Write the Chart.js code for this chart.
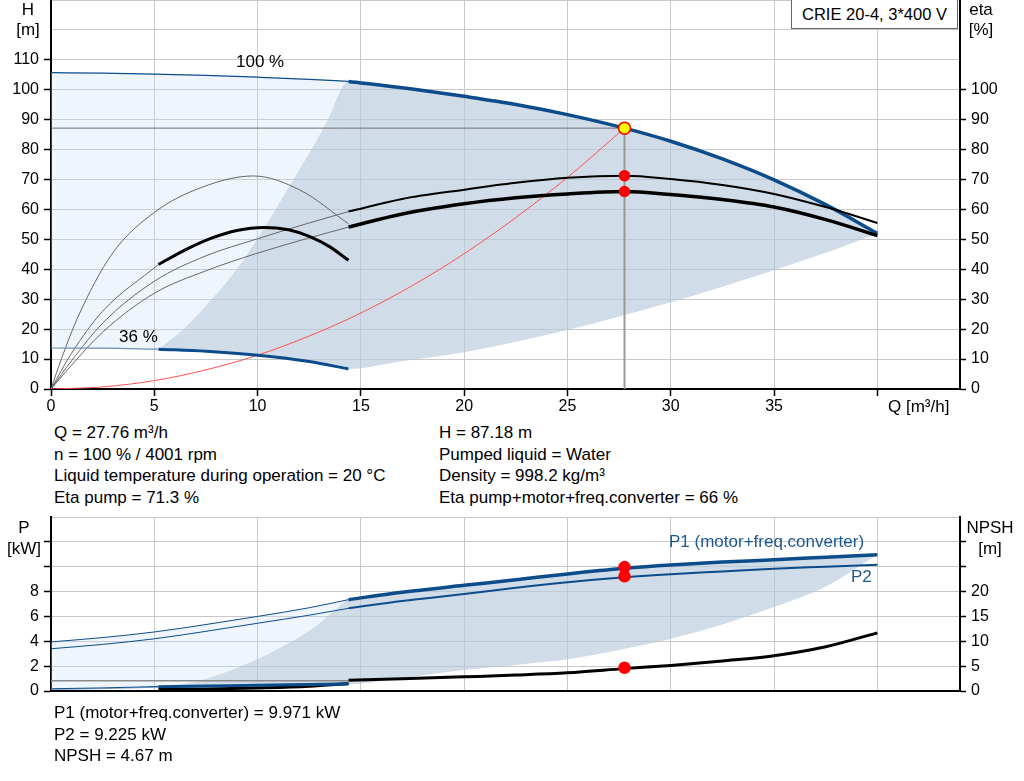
<!DOCTYPE html>
<html><head><meta charset="utf-8">
<script src="https://cdn.jsdelivr.net/npm/chart.js@4.4.0/dist/chart.umd.min.js"></script>
<style>
html,body{margin:0;padding:0;background:#fff}
body{width:1024px;height:781px;overflow:hidden;position:relative;font-family:"Liberation Sans",Arial,sans-serif;font-size:17px;color:#000}
.t{position:absolute;white-space:nowrap;line-height:20px}
.c{text-align:center}
#c1{position:absolute;left:0;top:0;width:1024px;height:420px}
#c2{position:absolute;left:0;top:510px;width:1024px;height:200px}
#title{position:absolute;left:791px;top:-1px;width:165px;height:28px;border:1px solid #666;background:#fff;text-align:center;line-height:29px;white-space:nowrap;font-size:16.5px}
.info{position:absolute;white-space:nowrap;line-height:21.5px}
</style></head><body>
<canvas id="c1" width="1024" height="420"></canvas>
<canvas id="c2" width="1024" height="200"></canvas>

<div id="title">CRIE 20-4, 3*400 V</div>
<div class="t c" style="left:0;top:0;width:56px">H<br>[m]</div>
<div class="t c" style="left:961px;top:0;width:40px">eta<br>[%]</div>
<div class="t" style="left:236px;top:52px">100 %</div>
<div class="t" style="left:119px;top:327px">36 %</div>
<div class="t" style="left:888px;top:397px">Q [m³/h]</div>

<div class="info" style="left:54px;top:422px">Q = 27.76 m³/h<br>n = 100 % / 4001 rpm<br>Liquid temperature during operation = 20 °C<br>Eta pump = 71.3 %</div>
<div class="info" style="left:439px;top:422px">H = 87.18 m<br>Pumped liquid = Water<br>Density = 998.2 kg/m³<br>Eta pump+motor+freq.converter = 66 %</div>

<div class="t c" style="left:0;top:517px;width:48px;line-height:21px">P<br>[kW]</div>
<div class="t c" style="left:960px;top:517px;width:60px;line-height:21px">NPSH<br>[m]</div>
<div class="t" style="left:669px;top:532px;color:#1b5892">P1 (motor+freq.converter)</div>
<div class="t" style="left:851px;top:567px;color:#1b5892">P2</div>

<div class="info" style="left:54px;top:702px;line-height:21.7px">P1 (motor+freq.converter) = 9.971 kW<br>P2 = 9.225 kW<br>NPSH = 4.67 m</div>

<script>
// ---------- Top chart data (Q in m³/h, H in m, eta in %) ----------
const Q_H100_THIN = [0, 2.5, 5, 7.5, 10, 12.5, 14.4];
const H_H100_THIN = [105.7, 105.55, 105.25, 104.8, 104.2, 103.5, 102.8];
const Q_H100 = [14.4, 17, 20, 22.5, 25, 27.76, 30, 32.5, 35, 37.5, 40];
const H_H100 = [102.8, 100.7, 97.8, 95.1, 91.7, 87.18, 82.8, 76.9, 69.9, 61.6, 52.0];

const Q_H36_THIN = [0, 2.5, 5.2];
const H_H36_THIN = [13.7, 13.65, 13.3];
const Q_H36 = [5.2, 7.5, 10, 12.5, 14.4];
const H_H36 = [13.3, 12.6, 11.3, 9.2, 6.7];

const Q_LEFT_BOUND = [5.2, 6.41, 7.78, 8.99, 9.96, 10.87, 11.73, 12.6, 13.4, 14.4];
const H_LEFT_BOUND = [13.3, 20, 30, 40, 50, 60, 70, 80, 90, 102.8];
const Q_LOW_BOUND = [14.4, 17, 20, 22.5, 25, 27.5, 30, 32.5, 35, 37.5, 40];
const H_LOW_BOUND = [6.7, 9.3, 12.3, 15.8, 19.7, 24.2, 29, 34.2, 39.7, 45.5, 52];

const Q_SYS = [0, 2.5, 5, 7.5, 10, 12.5, 15, 17.5, 20, 22.5, 25, 27.76];
const H_SYS = [0, 0.7, 2.8, 6.4, 11.3, 17.7, 25.4, 34.6, 45.2, 57.3, 70.7, 87.18];

const Q_ETAP36 = [0, 0.5, 1.3, 2.94, 5, 7.3, 9.8, 12.1, 14.4];
const E_ETAP36 = [0, 10, 24, 45, 59, 67.4, 71.2, 66.3, 55.2];
const Q_ETAT36_THIN = [0, 1, 2.5, 5.2];
const E_ETAT36_THIN = [0, 12, 26, 41.6];
const Q_ETAT36 = [5.2, 6.5, 7.8, 9, 10.3, 11.5, 12.5, 13.5, 14.4];
const E_ETAT36 = [41.6, 46.5, 50.5, 53, 54, 53.2, 51, 47.5, 43];

const Q_ETAP_THIN = [0, 1, 2.5, 5, 7.5, 10, 12.5, 14.4];
const E_ETAP_THIN = [0, 9.5, 22, 36, 44.5, 50.2, 55.5, 59.3];
const Q_ETAP = [14.4, 17, 20, 22.5, 25, 27.76, 30, 32.5, 35, 37.5, 40];
const E_ETAP = [59.3, 63.5, 66.6, 68.9, 70.6, 71.3, 70.2, 68.2, 65.2, 60.8, 55.5];
const Q_ETAT_THIN = [0, 1, 2.5, 5, 7.5, 10, 12.5, 14.4];
const E_ETAT_THIN = [0, 8, 19, 32, 39.5, 45.4, 50.5, 54.1];
const Q_ETAT = [14.4, 17, 20, 22.5, 25, 27.76, 30, 32.5, 35, 37.5, 40];
const E_ETAT = [54.1, 58.5, 61.9, 63.9, 65.2, 66, 65, 63.3, 60.8, 56.6, 51.3];

const DUTY_Q = 27.76, DUTY_H = 87.18, DUTY_ETAP = 71.3, DUTY_ETAT = 66;

const H_TICKS_MAX = 130, ETA_LABEL_MAX = 100, H_LABEL_MAX = 110;

// ---------- Bottom chart data (P in kW, NPSH in m) ----------
const Q_P1_THIN = [0, 2.5, 5, 7.5, 10, 12.5, 14.4];
const P_P1_THIN = [3.95, 4.3, 4.75, 5.35, 6.0, 6.7, 7.35];
const Q_P1 = [14.4, 17, 20, 22.5, 25, 27.76, 30, 32.5, 35, 37.5, 40];
const P_P1 = [7.35, 7.95, 8.5, 8.95, 9.42, 9.87, 10.14, 10.37, 10.56, 10.76, 10.96];
const Q_P2_THIN = [0, 2.5, 5, 7.5, 10, 12.5, 14.4];
const P_P2_THIN = [3.4, 3.75, 4.2, 4.8, 5.45, 6.1, 6.65];
const Q_P2 = [14.4, 17, 20, 22.5, 25, 27.76, 30, 32.5, 35, 37.5, 40];
const P_P2 = [6.65, 7.25, 7.8, 8.3, 8.75, 9.15, 9.4, 9.62, 9.84, 10.0, 10.16];

const Q_P1_36_THIN = [0, 2.5, 5.2];
const P_P1_36_THIN = [0.18, 0.25, 0.36];
const Q_P1_36 = [5.2, 7.5, 10, 12.5, 14.4];
const P_P1_36 = [0.36, 0.42, 0.48, 0.55, 0.6];
const Q_P2_36_THIN = [0, 2.5, 5.2];
const P_P2_36_THIN = [0.12, 0.19, 0.3];
const Q_P2_36 = [5.2, 7.5, 10, 12.5, 14.4];
const P_P2_36 = [0.3, 0.36, 0.42, 0.48, 0.52];

const Q_PLEFT_BOUND = [5.2, 6, 7, 8, 9, 10, 11, 12, 13, 13.7, 14.4];
const P_PLEFT_BOUND = [0.3, 0.45, 0.75, 1.25, 1.85, 2.55, 3.4, 4.3, 5.45, 6.45, 7.35];
const Q_PLOW_BOUND = [14.4, 17, 20, 22.5, 25, 27.5, 30, 32.5, 35, 37.5, 40];
const P_PLOW_BOUND = [0.52, 1.05, 1.68, 2.1, 2.55, 3.3, 4.2, 5.35, 6.75, 8.4, 10.96];

const Q_NPSH_THIN = [0, 14.4];
const N_NPSH_THIN = [2.07, 2.07];
const Q_NPSH = [14.4, 17, 20, 22.5, 25, 27.76, 30, 32.5, 35, 37.5, 40];
const N_NPSH = [2.15, 2.45, 2.85, 3.2, 3.65, 4.5, 5.15, 6.05, 7.1, 8.9, 11.7];
const Q_NPSH36 = [5.2, 7.5, 10, 12.5, 14.4];
const N_NPSH36 = [0.28, 0.38, 0.6, 0.95, 1.5];

const DUTY_P1 = 9.971, DUTY_P2 = 9.225, DUTY_NPSH = 4.67;

// ---------- helpers ----------
const BLUE = '#0d4c8b';
const GRID = '#c8c8c8';
const LIGHT = 'rgba(198,222,245,0.3)';
const DARK = 'rgba(181,200,219,0.636)';
const FONT = {family: '"Liberation Sans", Arial, sans-serif', size: 16};
const pts = (xs, ys) => xs.map((x, i) => ({x: x, y: ys[i]}));
const join = (a, b) => a.concat(b.slice(1));
function ln(data, color, width, extra) {
  return Object.assign({data: data, borderColor: color, borderWidth: width, pointRadius: 0,
    fill: false, cubicInterpolationMode: 'monotone', order: 5}, extra || {});
}
function dot(x, y, bg, border, r, axis) {
  const d = {data: [{x: x, y: y}], showLine: false, pointRadius: r, pointBackgroundColor: bg,
    pointBorderColor: border, pointBorderWidth: 1.5, order: 0};
  if (axis) d.yAxisID = axis;
  return d;
}
const tickCol = (limit) => (c) => (c.tick && c.tick.value > limit) ? 'rgba(0,0,0,0)' : '#000';
const vFit = (w) => (s) => { s.width = w; s.paddingTop = 0; s.paddingBottom = 0; };
const hFit = (h) => (s) => { s.height = h; s.paddingLeft = 0; s.paddingRight = 0; };
const baseOpts = {
  responsive: false, animation: false, events: [],
  plugins: {legend: {display: false}, tooltip: {enabled: false}}
};

// ---------- Top chart ----------
const topSets = [
  // 0,1 light fill region
  ln(pts(Q_H100_THIN, H_H100_THIN), 'rgba(0,0,0,0)', 0, {fill: 1, backgroundColor: LIGHT, order: 30}),
  ln(join(pts(Q_H36_THIN, H_H36_THIN), pts(Q_LEFT_BOUND, H_LEFT_BOUND)), 'rgba(0,0,0,0)', 0, {order: 31}),
  // 2,3 dark fill region
  ln(join(pts(Q_LEFT_BOUND, H_LEFT_BOUND), pts(Q_H100, H_H100)), 'rgba(0,0,0,0)', 0, {fill: 3, backgroundColor: DARK, order: 28}),
  ln(join(pts(Q_H36, H_H36), pts(Q_LOW_BOUND, H_LOW_BOUND)), 'rgba(0,0,0,0)', 0, {order: 29}),
  // duty point guide lines
  ln([{x: 0, y: DUTY_H}, {x: DUTY_Q, y: DUTY_H}], '#707070', 1, {order: 12}),
  ln([{x: DUTY_Q, y: 0}, {x: DUTY_Q, y: DUTY_H}], '#999999', 2, {order: 12}),
  // system curve
  ln(pts(Q_SYS, H_SYS), '#ff5050', 1, {order: 11}),
  // thin eta curves
  ln(pts(Q_ETAP36, E_ETAP36), '#666666', 1, {yAxisID: 'e', order: 10}),
  ln(pts(Q_ETAT36_THIN, E_ETAT36_THIN), '#666666', 1, {yAxisID: 'e', order: 10}),
  ln(pts(Q_ETAP_THIN, E_ETAP_THIN), '#666666', 1, {yAxisID: 'e', order: 10}),
  ln(pts(Q_ETAT_THIN, E_ETAT_THIN), '#666666', 1, {yAxisID: 'e', order: 10}),
  // thin H curves
  ln(pts(Q_H100_THIN, H_H100_THIN), BLUE, 1.2, {order: 9}),
  ln(pts(Q_H36_THIN, H_H36_THIN), '#6f8fb0', 1.2, {order: 9}),
  // thick H curves
  ln(pts(Q_H100, H_H100), BLUE, 3.5, {order: 6}),
  ln(pts(Q_H36, H_H36), BLUE, 3, {order: 6}),
  // thick eta curves
  ln(pts(Q_ETAT36, E_ETAT36), '#000', 3, {yAxisID: 'e', order: 5}),
  ln(pts(Q_ETAP, E_ETAP), '#000', 2, {yAxisID: 'e', order: 5}),
  ln(pts(Q_ETAT, E_ETAT), '#000', 3.5, {yAxisID: 'e', order: 5}),
  // markers
  dot(DUTY_Q, DUTY_ETAP, '#ff0000', '#ff0000', 5, 'e'),
  dot(DUTY_Q, DUTY_ETAT, '#ff0000', '#ff0000', 5, 'e'),
  dot(DUTY_Q, DUTY_H, '#ffff00', '#ff0000', 6)
];

new Chart(document.getElementById('c1'), {
  type: 'line',
  data: {datasets: topSets},
  options: Object.assign({}, baseOpts, {
    layout: {autoPadding: false, padding: {top: 0, left: 0, right: 0, bottom: 0}},
    scales: {
      x: {type: 'linear', min: 0, max: 44,
        ticks: {stepSize: 5, includeBounds: false, autoSkip: false, maxRotation: 0, color: '#000', font: FONT, padding: 1,
          callback: v => v <= 35 ? v : ''},
        grid: {color: GRID, lineWidth: 1, tickLength: 7, tickColor: '#000', tickWidth: 1.5},
        border: {color: '#000', width: 2},
        afterFit: hFit(31)},
      y: {type: 'linear', position: 'left', min: 0, max: H_TICKS_MAX,
        ticks: {stepSize: 10, autoSkip: false, color: '#000', font: FONT, padding: 5,
          callback: v => v <= H_LABEL_MAX ? v : ''},
        grid: {color: GRID, lineWidth: 1, tickLength: 7, tickWidth: 1.5, tickColor: tickCol(H_LABEL_MAX)},
        border: {color: '#000', width: 2},
        afterFit: vFit(51)},
      e: {type: 'linear', position: 'right', min: 0, max: H_TICKS_MAX,
        ticks: {stepSize: 10, autoSkip: false, color: '#000', font: FONT, padding: 5,
          callback: v => v <= ETA_LABEL_MAX ? v : ''},
        grid: {drawOnChartArea: false, tickLength: 6, tickWidth: 1.5, tickColor: tickCol(ETA_LABEL_MAX)},
        border: {color: '#000', width: 2},
        afterFit: vFit(64)}
    }
  })
});

// ---------- Bottom chart ----------
const botSets = [
  ln(pts(Q_P1_THIN, P_P1_THIN), 'rgba(0,0,0,0)', 0, {fill: 1, backgroundColor: LIGHT, order: 30}),
  ln(join(pts(Q_P2_36_THIN, P_P2_36_THIN), pts(Q_PLEFT_BOUND, P_PLEFT_BOUND)), 'rgba(0,0,0,0)', 0, {order: 31}),
  ln(join(pts(Q_PLEFT_BOUND, P_PLEFT_BOUND), pts(Q_P1, P_P1)), 'rgba(0,0,0,0)', 0, {fill: 3, backgroundColor: DARK, order: 28}),
  ln(join(pts(Q_P2_36, P_P2_36), pts(Q_PLOW_BOUND, P_PLOW_BOUND)), 'rgba(0,0,0,0)', 0, {order: 29}),
  // NPSH
  ln(pts(Q_NPSH_THIN, N_NPSH_THIN), '#8a8a8a', 1.5, {yAxisID: 'n', order: 10, cubicInterpolationMode: 'default'}),
  ln(pts(Q_NPSH36, N_NPSH36), '#000', 3, {yAxisID: 'n', order: 7}),
  ln(pts(Q_NPSH, N_NPSH), '#000', 3, {yAxisID: 'n', order: 7}),
  // thin power curves
  ln(pts(Q_P1_THIN, P_P1_THIN), BLUE, 1, {order: 9}),
  ln(pts(Q_P2_THIN, P_P2_THIN), BLUE, 1, {order: 9}),
  ln(pts(Q_P1_36_THIN, P_P1_36_THIN), BLUE, 1, {order: 9}),
  ln(pts(Q_P2_36_THIN, P_P2_36_THIN), '#8fa8c2', 1, {order: 9}),
  // thick power curves
  ln(pts(Q_P2_36, P_P2_36), BLUE, 2, {order: 6}),
  ln(pts(Q_P1_36, P_P1_36), BLUE, 2.5, {order: 6}),
  ln(pts(Q_P2, P_P2), BLUE, 2, {order: 6}),
  ln(pts(Q_P1, P_P1), BLUE, 3.5, {order: 6}),
  // markers
  dot(DUTY_Q, DUTY_P1, '#ff0000', '#ff0000', 5.5),
  dot(DUTY_Q, DUTY_P2, '#ff0000', '#ff0000', 5.5),
  dot(DUTY_Q, DUTY_NPSH, '#ff0000', '#ff0000', 5.5, 'n')
];

new Chart(document.getElementById('c2'), {
  type: 'line',
  data: {datasets: botSets},
  options: Object.assign({}, baseOpts, {
    layout: {autoPadding: false, padding: {top: 7, left: 0, right: 0, bottom: 0}},
    scales: {
      x: {type: 'linear', min: 0, max: 44,
        ticks: {display: false, stepSize: 5, includeBounds: false},
        grid: {color: GRID, lineWidth: 1, drawTicks: false},
        border: {color: '#000', width: 2},
        afterFit: hFit(19)},
      y: {type: 'linear', position: 'left', min: 0, max: 14,
        ticks: {stepSize: 2, autoSkip: false, color: '#000', font: FONT, padding: 5,
          callback: v => v <= 8 ? v : ''},
        grid: {color: GRID, lineWidth: 1, tickLength: 7, tickWidth: 1.5, tickColor: tickCol(12)},
        border: {color: '#000', width: 2},
        afterFit: vFit(51)},
      n: {type: 'linear', position: 'right', min: 0, max: 35,
        ticks: {stepSize: 5, autoSkip: false, color: '#000', font: FONT, padding: 5,
          callback: v => v <= 20 ? v : ''},
        grid: {drawOnChartArea: false, tickLength: 6, tickWidth: 1.5, tickColor: tickCol(30)},
        border: {color: '#000', width: 2},
        afterFit: vFit(64)}
    }
  })
});
</script>
</body></html>
